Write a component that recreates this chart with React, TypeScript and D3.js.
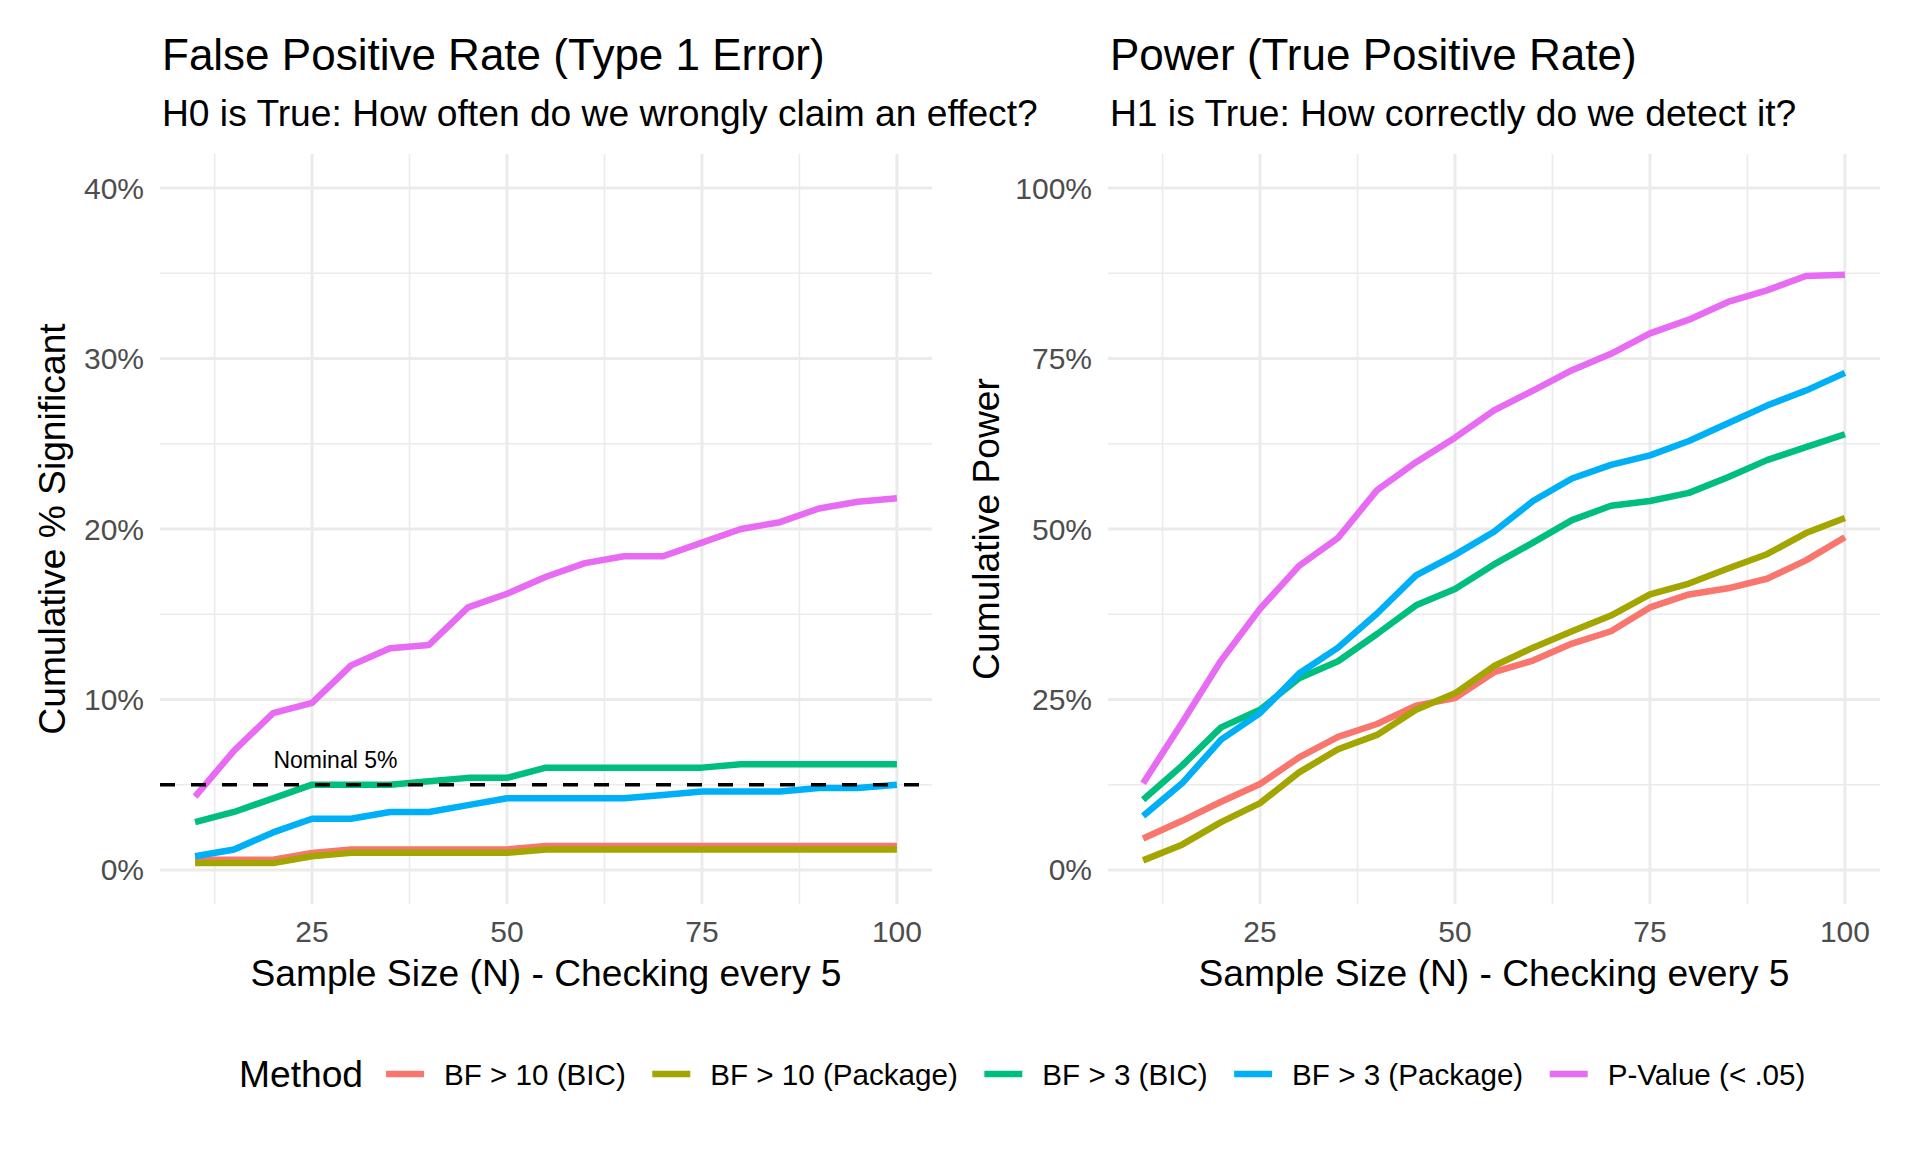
import React, { useRef, useEffect } from 'react';
import * as d3 from 'd3';

// Sample size checkpoints (checking every 5)
const sampleSizes = [10, 15, 20, 25, 30, 35, 40, 45, 50, 55, 60, 65, 70, 75, 80, 85, 90, 95, 100];

const methods = ['BF > 10 (BIC)', 'BF > 10 (Package)', 'BF > 3 (BIC)', 'BF > 3 (Package)', 'P-Value (< .05)'];
const methodColors = ['#F8766D', '#A3A500', '#00BF7D', '#00B0F6', '#E76BF3'];

// H0 true: cumulative % significant
const fprBf10Bic = [0.006, 0.006, 0.006, 0.010, 0.012, 0.012, 0.012, 0.012, 0.012, 0.014, 0.014, 0.014, 0.014, 0.014, 0.014, 0.014, 0.014, 0.014, 0.014];
const fprBf10Pkg = [0.004, 0.004, 0.004, 0.008, 0.010, 0.010, 0.010, 0.010, 0.010, 0.012, 0.012, 0.012, 0.012, 0.012, 0.012, 0.012, 0.012, 0.012, 0.012];
const fprBf3Bic = [0.028, 0.034, 0.042, 0.050, 0.050, 0.050, 0.052, 0.054, 0.054, 0.060, 0.060, 0.060, 0.060, 0.060, 0.062, 0.062, 0.062, 0.062, 0.062];
const fprBf3Pkg = [0.008, 0.012, 0.022, 0.030, 0.030, 0.034, 0.034, 0.038, 0.042, 0.042, 0.042, 0.042, 0.044, 0.046, 0.046, 0.046, 0.048, 0.048, 0.050];
const fprPValue = [0.043, 0.070, 0.092, 0.098, 0.120, 0.130, 0.132, 0.154, 0.162, 0.172, 0.180, 0.184, 0.184, 0.192, 0.200, 0.204, 0.212, 0.216, 0.218];

// H1 true: cumulative power
const powBf10Bic = [0.046, 0.072, 0.100, 0.126, 0.165, 0.195, 0.214, 0.241, 0.252, 0.290, 0.307, 0.332, 0.350, 0.385, 0.404, 0.413, 0.427, 0.454, 0.488];
const powBf10Pkg = [0.014, 0.037, 0.070, 0.098, 0.143, 0.177, 0.198, 0.235, 0.259, 0.299, 0.326, 0.350, 0.373, 0.404, 0.420, 0.442, 0.463, 0.494, 0.516];
const powBf3Bic = [0.103, 0.153, 0.209, 0.235, 0.281, 0.306, 0.346, 0.388, 0.412, 0.448, 0.480, 0.513, 0.534, 0.541, 0.553, 0.576, 0.601, 0.620, 0.639];
const powBf3Pkg = [0.079, 0.127, 0.191, 0.230, 0.288, 0.326, 0.376, 0.432, 0.462, 0.496, 0.541, 0.574, 0.594, 0.608, 0.629, 0.655, 0.681, 0.703, 0.729];
const powPValue = [0.127, 0.216, 0.307, 0.383, 0.446, 0.487, 0.557, 0.598, 0.634, 0.674, 0.703, 0.733, 0.757, 0.787, 0.807, 0.833, 0.850, 0.871, 0.873];

const fprSeries = [fprBf10Bic, fprBf10Pkg, fprBf3Bic, fprBf3Pkg, fprPValue];
const powSeries = [powBf10Bic, powBf10Pkg, powBf3Bic, powBf3Pkg, powPValue];

const xTicks = [25, 50, 75, 100];
const xMinor = [12.5, 37.5, 62.5, 87.5];
const fprTicks = [0, 0.1, 0.2, 0.3, 0.4];
const fprMinor = [0.05, 0.15, 0.25, 0.35];
const powTicks = [0, 0.25, 0.5, 0.75, 1];
const powMinor = [0.125, 0.375, 0.625, 0.875];

const nominalRate = 0.05;
const nominalLabelX = 28;

const FONT = '"Liberation Sans", Arial, Helvetica, sans-serif';

const App: React.FC = () => {
  const svgRef = useRef<SVGSVGElement | null>(null);
  const width = 1920;
  const height = 1152;

  useEffect(() => {
    if (!svgRef.current) return;
    const svg = d3.select(svgRef.current);
    svg.selectAll('*').remove();

    svg.append('rect').attr('width', width).attr('height', height).attr('fill', 'white');

    const top = 154;
    const bottom = 904;

    const drawPanel = (opts: {
      left: number; right: number; series: number[][]; yMax: number; ticks: number[]; minor: number[];
      title: string; subtitle: string; yTitle: string; yTitleX: number; nominal: boolean;
    }) => {
      const x = d3.scaleLinear().domain([5.5, 104.5]).range([opts.left, opts.right]);
      const pad = opts.yMax * 0.05;
      const y = d3.scaleLinear().domain([-pad, opts.yMax + pad]).range([bottom, top]);
      const g = svg.append('g');

      // minor grid
      g.selectAll('line.xminor').data(xMinor).join('line')
        .attr('x1', d => x(d)).attr('x2', d => x(d)).attr('y1', top).attr('y2', bottom)
        .attr('stroke', '#EBEBEB').attr('stroke-width', 1.6);
      g.selectAll('line.yminor').data(opts.minor).join('line')
        .attr('y1', d => y(d)).attr('y2', d => y(d)).attr('x1', opts.left).attr('x2', opts.right)
        .attr('stroke', '#EBEBEB').attr('stroke-width', 1.6);
      // major grid
      g.selectAll('line.xmajor').data(xTicks).join('line')
        .attr('x1', d => x(d)).attr('x2', d => x(d)).attr('y1', top).attr('y2', bottom)
        .attr('stroke', '#EBEBEB').attr('stroke-width', 3);
      g.selectAll('line.ymajor').data(opts.ticks).join('line')
        .attr('y1', d => y(d)).attr('y2', d => y(d)).attr('x1', opts.left).attr('x2', opts.right)
        .attr('stroke', '#EBEBEB').attr('stroke-width', 3);

      // tick labels
      g.selectAll('text.xtick').data(xTicks).join('text')
        .attr('x', d => x(d)).attr('y', 942)
        .attr('text-anchor', 'middle').attr('font-family', FONT).attr('font-size', 30).attr('fill', '#4D4D4D')
        .text(d => String(d));
      g.selectAll('text.ytick').data(opts.ticks).join('text')
        .attr('x', opts.left - 16).attr('y', d => y(d) + 10.5)
        .attr('text-anchor', 'end').attr('font-family', FONT).attr('font-size', 30).attr('fill', '#4D4D4D')
        .text(d => d3.format('.0%')(d));

      const line = d3.line<number>()
        .x((_, i) => x(sampleSizes[i]))
        .y(d => y(d));

      opts.series.forEach((s, i) => {
        g.append('path').datum(s)
          .attr('d', line)
          .attr('fill', 'none')
          .attr('stroke', methodColors[i])
          .attr('stroke-width', 6.5)
          .attr('stroke-linejoin', 'round')
          .attr('stroke-linecap', 'butt');
      });

      if (opts.nominal) {
        g.append('line')
          .attr('x1', opts.left).attr('x2', opts.right)
          .attr('y1', y(nominalRate)).attr('y2', y(nominalRate))
          .attr('stroke', 'black').attr('stroke-width', 3.6)
          .attr('stroke-dasharray', '15,16');
        g.append('text')
          .attr('x', x(nominalLabelX)).attr('y', y(nominalRate) - 17)
          .attr('text-anchor', 'middle').attr('font-family', FONT).attr('font-size', 23).attr('fill', 'black')
          .text('Nominal 5%');
      }

      // titles
      g.append('text').attr('x', opts.left + 2).attr('y', 70)
        .attr('font-family', FONT).attr('font-size', 44).attr('fill', 'black').text(opts.title);
      g.append('text').attr('x', opts.left + 2).attr('y', 126)
        .attr('font-family', FONT).attr('font-size', 37.2).attr('fill', 'black').text(opts.subtitle);

      // axis titles
      g.append('text').attr('x', (opts.left + opts.right) / 2).attr('y', 986)
        .attr('text-anchor', 'middle').attr('font-family', FONT).attr('font-size', 37.2).attr('fill', 'black')
        .text('Sample Size (N) - Checking every 5');
      g.append('text')
        .attr('transform', `translate(${opts.yTitleX},${(top + bottom) / 2}) rotate(-90)`)
        .attr('text-anchor', 'middle').attr('font-family', FONT).attr('font-size', 37.2).attr('fill', 'black')
        .text(opts.yTitle);
    };

    drawPanel({
      left: 160, right: 932, series: fprSeries, yMax: 0.4, ticks: fprTicks, minor: fprMinor,
      title: 'False Positive Rate (Type 1 Error)', subtitle: 'H0 is True: How often do we wrongly claim an effect?',
      yTitle: 'Cumulative % Significant', yTitleX: 65, nominal: true,
    });
    drawPanel({
      left: 1108, right: 1880, series: powSeries, yMax: 1, ticks: powTicks, minor: powMinor,
      title: 'Power (True Positive Rate)', subtitle: 'H1 is True: How correctly do we detect it?',
      yTitle: 'Cumulative Power', yTitleX: 999, nominal: false,
    });

    // legend
    const legend = svg.append('g');
    const legendY = 1074;
    const titleText = legend.append('text').attr('x', 239).attr('y', legendY + 13)
      .attr('font-family', FONT).attr('font-size', 37.2).attr('fill', 'black').text('Method');
    let cx = 239 + (titleText.node() as SVGTextElement).getComputedTextLength() + 23;
    methods.forEach((m, i) => {
      legend.append('line')
        .attr('x1', cx).attr('x2', cx + 38).attr('y1', legendY).attr('y2', legendY)
        .attr('stroke', methodColors[i]).attr('stroke-width', 6.5);
      const t = legend.append('text').attr('x', cx + 58).attr('y', legendY + 10.5)
        .attr('font-family', FONT).attr('font-size', 29.6).attr('fill', 'black').text(m);
      cx += 58 + (t.node() as SVGTextElement).getComputedTextLength() + 26.5;
    });
  }, []);

  return (
    <svg ref={svgRef} width={width} height={height}
      style={{ position: 'absolute', left: 0, top: 0, display: 'block' }} />
  );
};

export default App;
